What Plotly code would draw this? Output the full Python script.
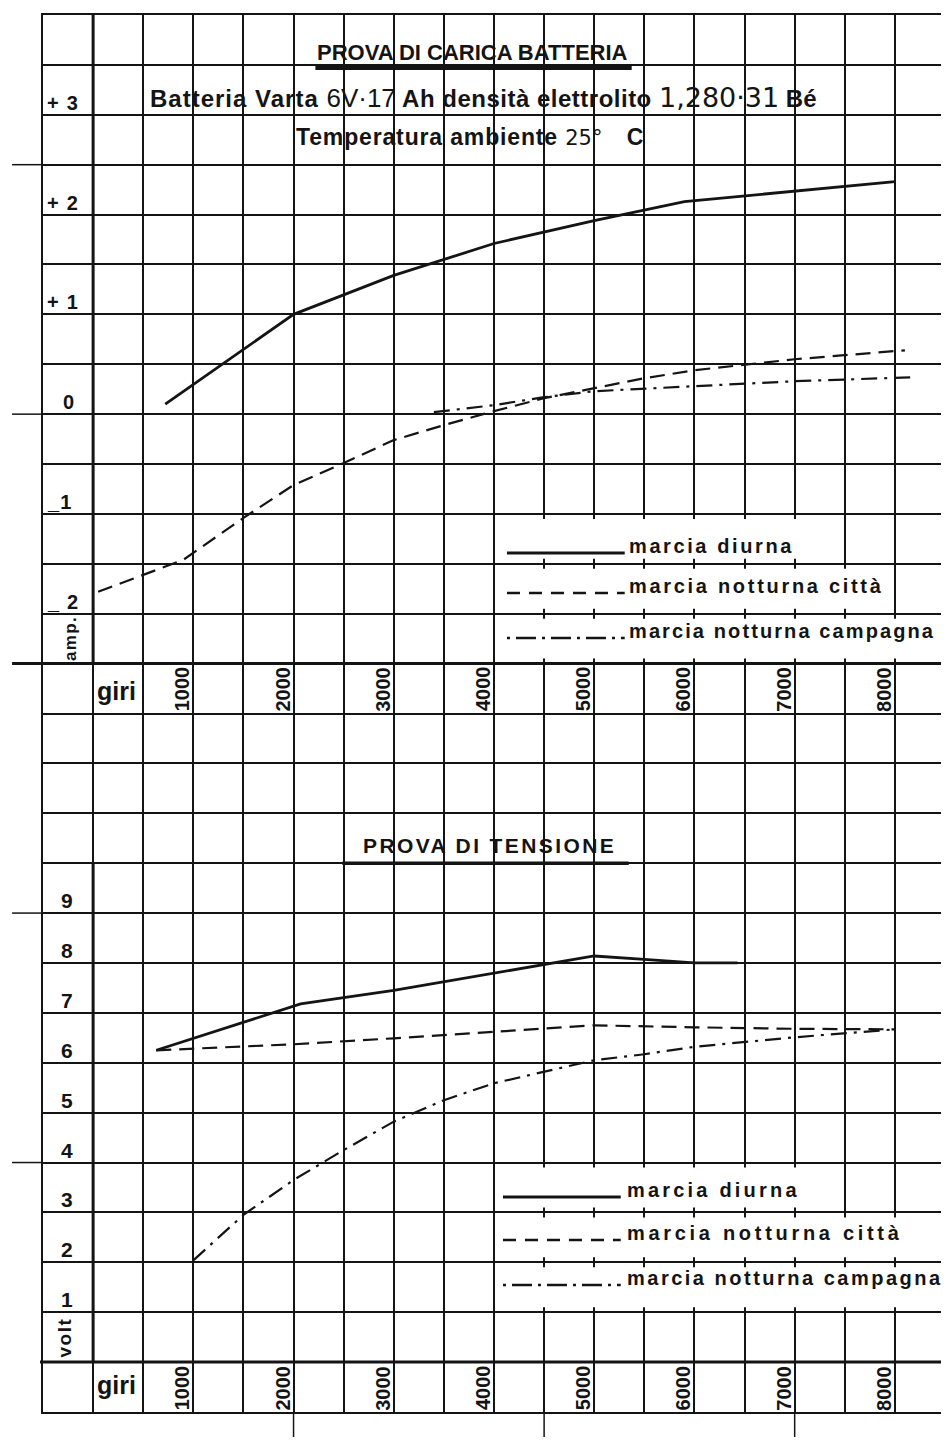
import plotly.graph_objects as go

# ---- values ----
giri_ticks = [1000, 2000, 3000, 4000, 5000, 6000, 7000, 8000]
amp_ticks = [3, 2, 1, 0, -1, -2]
amp_tick_text = ["+ 3", "+ 2", "+ 1", "0", "_1", "_ 2"]
volt_ticks = [9, 8, 7, 6, 5, 4, 3, 2, 1]

# prova di carica batteria (amp)
carica_diurna_giri = [720, 2000, 3000, 4000, 5000, 5900, 8000]
carica_diurna_amp = [0.10, 1.00, 1.39, 1.71, 1.94, 2.13, 2.33]
carica_citta_giri = [50, 900, 1500, 2000, 2500, 3000, 3500, 4000, 4500, 5000, 5500, 6000, 7000, 8100]
carica_citta_amp = [-1.78, -1.46, -1.04, -0.71, -0.49, -0.26, -0.11, 0.03, 0.16, 0.26, 0.36, 0.44, 0.55, 0.64]
carica_campagna_giri = [3400, 4000, 4500, 5000, 6000, 7000, 8200]
carica_campagna_amp = [0.02, 0.09, 0.17, 0.23, 0.28, 0.33, 0.37]

# prova di tensione (volt)
tensione_diurna_giri = [630, 2070, 3000, 4000, 5000, 5500, 6000, 6430]
tensione_diurna_volt = [6.25, 7.18, 7.45, 7.80, 8.14, 8.07, 8.00, 8.00]
tensione_citta_giri = [630, 2000, 3000, 4000, 5000, 6000, 7000, 8000]
tensione_citta_volt = [6.25, 6.37, 6.49, 6.62, 6.75, 6.71, 6.68, 6.67]
tensione_campagna_giri = [1000, 1500, 2000, 2500, 3000, 3500, 4000, 4500, 5000, 5500, 6000, 7000, 8000]
tensione_campagna_volt = [2.04, 2.95, 3.65, 4.25, 4.82, 5.25, 5.59, 5.82, 6.05, 6.17, 6.32, 6.51, 6.67]

legend_labels = ["marcia diurna", "marcia notturna città", "marcia notturna campagna"]

# ---- sheet geometry (page pixels; the html body adds an 8px margin) ----
BODY = 8
PLOT_LEFT, PLOT_TOP, PW, PH = 43, 15, 904, 1397
FIG_W, FIG_H = 941, 1429
ML, MT = PLOT_LEFT - BODY, PLOT_TOP - BODY
MR, MB = FIG_W - ML - PW, FIG_H - MT - PH
GIRI_RANGE = [-500, 8500]
AMP_RANGE = [-10, 4]
VOLT_RANGE = [-1, 27]

FONT = "Liberation Sans, Arial, sans-serif"
INK = "#141414"


def px(x):  # page pixel -> paper x
    return (x - PLOT_LEFT) / PW


def py(y):  # page pixel -> paper y
    return 1 - (y - PLOT_TOP) / PH


def gx(g):
    return (g - GIRI_RANGE[0]) / (GIRI_RANGE[1] - GIRI_RANGE[0])


def ga(a):
    return (a - AMP_RANGE[0]) / (AMP_RANGE[1] - AMP_RANGE[0])


def gv(v):
    return (v - VOLT_RANGE[0]) / (VOLT_RANGE[1] - VOLT_RANGE[0])


def spaced(t, ls):
    return f'<span style="letter-spacing:{ls}px">{t}</span>'


fig = go.Figure()

styles = [dict(width=2.8, dash="solid"),
          dict(width=2.2, dash="15px,8px"),
          dict(width=2.2, dash="16px,7px,3px,7px")]

carica = [(carica_diurna_giri, carica_diurna_amp),
          (carica_citta_giri, carica_citta_amp),
          (carica_campagna_giri, carica_campagna_amp)]
tensione = [(tensione_diurna_giri, tensione_diurna_volt),
            (tensione_citta_giri, tensione_citta_volt),
            (tensione_campagna_giri, tensione_campagna_volt)]

for (xs, ys), st, name in zip(carica, styles, legend_labels):
    fig.add_trace(go.Scatter(x=xs, y=ys, mode="lines", name=name, showlegend=False,
                             line=dict(color=INK, **st)))
for (xs, ys), st, name in zip(tensione, styles, legend_labels):
    fig.add_trace(go.Scatter(x=xs, y=ys, mode="lines", name=name, showlegend=False,
                             yaxis="y2", line=dict(color=INK, **st)))


def note(text, x, y, size, xanchor="center", yanchor="middle", angle=0,
         xref="paper", yref="paper", xshift=0, yshift=0, family=FONT):
    fig.add_annotation(text=text, x=x, y=y, xref=xref, yref=yref, xanchor=xanchor,
                       yanchor=yanchor, textangle=angle, showarrow=False, borderpad=0,
                       xshift=xshift, yshift=yshift,
                       font=dict(family=family, size=size, color=INK, weight="bold"))


def seg(x0, y0, x1, y1, width, dash="solid"):
    fig.add_shape(type="line", xref="paper", yref="paper", x0=x0, y0=y0, x1=x1, y1=y1,
                  line=dict(color=INK, width=width, dash=dash), layer="above")


# ---- thick axes, registration stubs ----
seg(gx(0), ga(-2.5), gx(0), 1, 3)
seg(px(12), ga(-2.5), 1, ga(-2.5), 3)
seg(gx(0), gv(10), gx(0), gv(0), 3)
seg(px(40), gv(0), 1, gv(0), 3)
for a in [2.5, 0, -5, -7.5]:
    seg(px(12), ga(a), 0, ga(a), 1.5)
for g in [2000, 4500, 7000]:
    seg(gx(g), 0, gx(g), py(1437), 1.5)

# ---- titles ----
note("PROVA DI CARICA BATTERIA", px(473), py(52), 22)
seg(px(316), py(68), px(633), py(68), 4)

sub1 = (spaced("Batteria Varta ", 1.0)
        + '<span style="font-family:Liberation Sans;font-weight:normal;font-size:26px">6V·17</span>'
        + spaced(" Ah densità elettrolito ", 0.5)
        + '<span style="font-family:DejaVu Sans;font-weight:normal;font-size:27px">1,280·31</span>'
        + " Bé")
note(sub1, px(149), py(98), 24, xanchor="left")

sub2 = (spaced("Temperatura ambiente ", 0.85)
        + '<span style="font-family:DejaVu Sans;font-weight:normal;font-size:21px">25°</span>'
        + spaced(" ", 18) + "C")
note(sub2, px(296), py(137), 23, xanchor="left")

note(spaced("PROVA DI TENSIONE", 2.4), px(490), py(845), 21)
seg(px(343), gv(10), px(630), gv(10), 3.5)

# ---- axis labels ----
for v, t in zip(amp_ticks, amp_tick_text):
    if t == "0":
        note(t, px(69), v, 20, yanchor="bottom", yref="y")
    else:
        note(spaced(t, 1.2), px(46), v, 20, xanchor="left", yanchor="bottom", yref="y")
note(spaced("amp.", 1.3), px(70), py(638), 17, angle=-90)

for v in volt_ticks:
    note(str(v), px(67.5), v, 21, yanchor="bottom", yref="y2")
note(spaced("volt", 1.5), px(64.5), py(1337), 19, angle=-90)

for ypix in [691, 1385]:
    note("giri", px(117), py(ypix), 25)
for ypix in [689, 1388]:
    for g in giri_ticks:
        note(str(g), g, py(ypix), 20, angle=-90, xref="x", xshift=-11)

# ---- hand-drawn legends ----
legend_dash = ["solid", "13px,9px", "3px,6px,20px,6px"]
legend_width = [3, 2.4, 2.4]
top_rows = [(-1.0, -1.5), (-1.5, -2.0), (-2.0, -2.5)]
top_ends = [798, 888, 940]
top_base = [553, 593, 638]
top_ls = [2.6, 2.7, 2.1]
bot_rows = [(4, 3), (3, 2), (2, 1)]
bot_ends = [803, 906, 946]
bot_base = [1197, 1240, 1285]
bot_ls = [3.2, 3.7, 2.5]
pad = 5 / PH

for (a0, a1), end, base, ls, lab, d, w in zip(top_rows, top_ends, top_base, top_ls,
                                                legend_labels, legend_dash, legend_width):
    fig.add_shape(type="rect", xref="paper", yref="paper", x0=px(500), x1=px(end),
                  y0=ga(a1) + pad, y1=ga(a0) - pad, fillcolor="white", line_width=0, layer="above")
    seg(px(508), py(base), px(626), py(base), w, d)
    note(spaced(lab, ls), px(629), py(base - 7), 20, xanchor="left")

for (v0, v1), end, base, ls, lab, d, w in zip(bot_rows, bot_ends, bot_base, bot_ls,
                                                legend_labels, legend_dash, legend_width):
    fig.add_shape(type="rect", xref="paper", yref="paper", x0=px(498), x1=px(end),
                  y0=gv(v1) + pad, y1=gv(v0) - pad, fillcolor="white", line_width=0, layer="above")
    seg(px(504), py(base), px(622), py(base), w, d)
    note(spaced(lab, ls), px(627), py(base - 7), 20, xanchor="left")

grid = dict(showgrid=True, gridcolor=INK, gridwidth=1.5, zeroline=False,
            showticklabels=False, ticks="", showline=True, mirror=True,
            linecolor=INK, linewidth=1.5)

fig.update_layout(
    width=FIG_W, height=FIG_H,
    margin=dict(l=ML, r=MR, t=MT, b=MB),
    paper_bgcolor="white", plot_bgcolor="white",
    showlegend=False,
    xaxis=dict(range=GIRI_RANGE, dtick=500, tick0=0, **grid),
    yaxis=dict(range=AMP_RANGE, dtick=0.5, tick0=0, **grid),
    yaxis2=dict(range=VOLT_RANGE, overlaying="y", visible=False, showgrid=False),
)

fig.write_html("out.html", config={"displayModeBar": False})
